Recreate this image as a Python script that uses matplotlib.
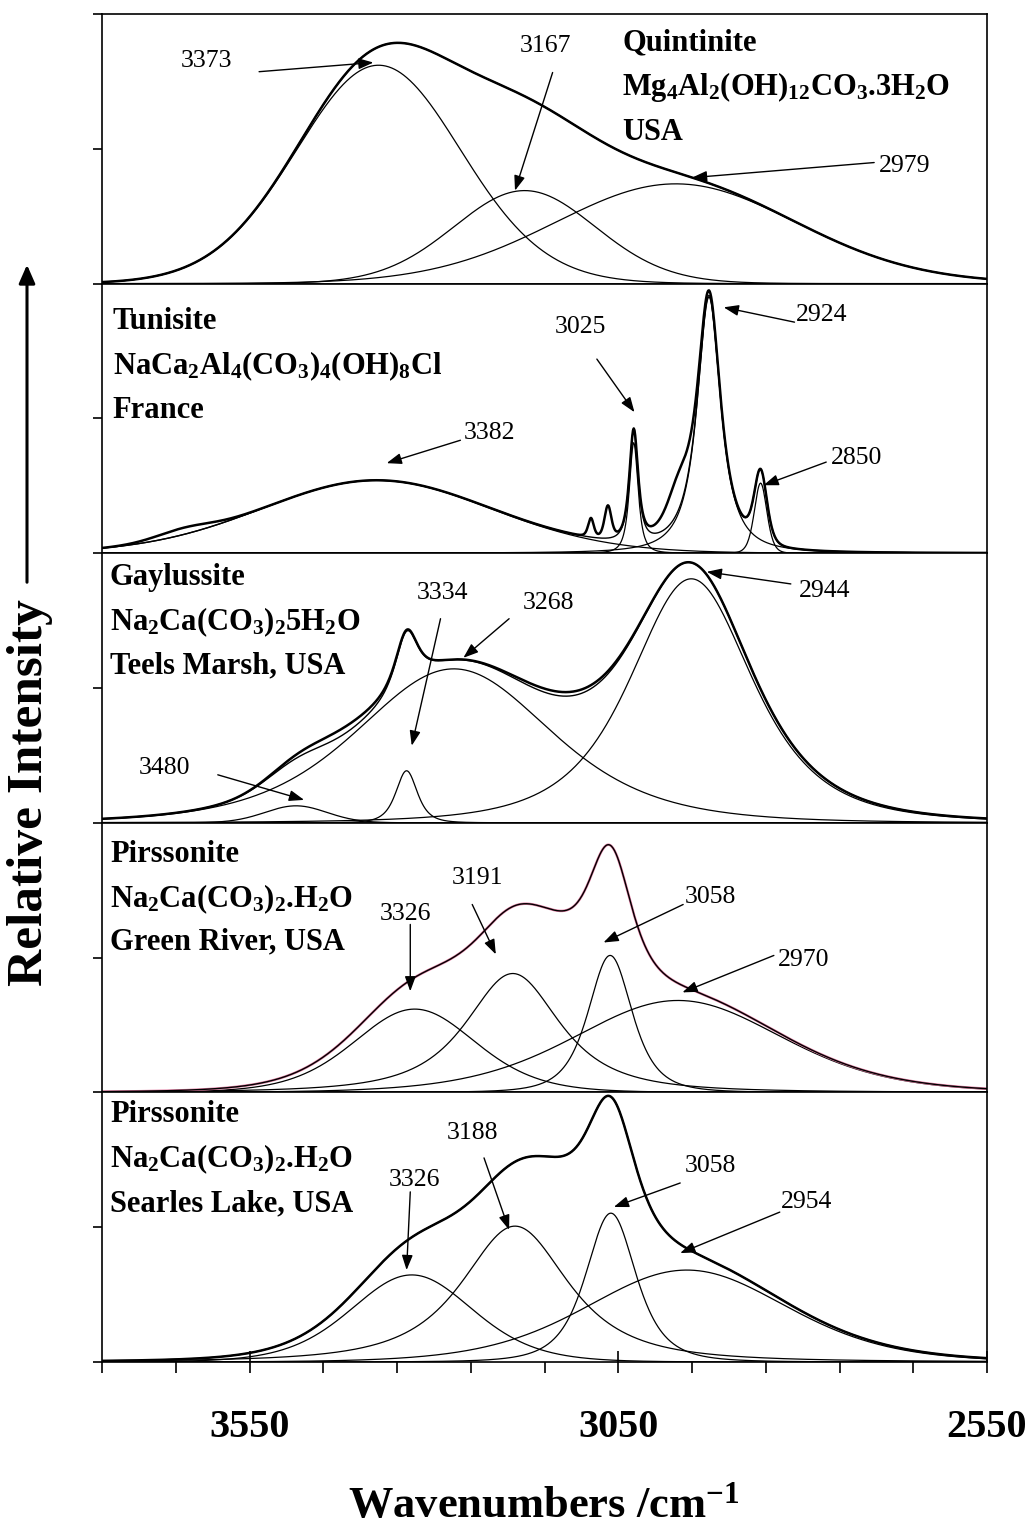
import numpy as np
import matplotlib
matplotlib.use("Agg")
import matplotlib.pyplot as plt
from matplotlib.patches import FancyArrowPatch
from matplotlib.ticker import MultipleLocator

plt.rcParams["font.family"] = ["Liberation Serif", "DejaVu Serif"]
plt.rcParams["mathtext.fontset"] = "custom"
plt.rcParams["mathtext.rm"] = "Liberation Serif"
plt.rcParams["mathtext.bf"] = "Liberation Serif:bold"
plt.rcParams["mathtext.it"] = "Liberation Serif:italic"

# ── data: fitted bands (centre /cm-1, relative height, FWHM /cm-1, Pearson VII shape m) ──
# m = 1 is a Lorentzian, large m tends to a Gaussian

QUIN_CENTRES = [3375, 3177, 2972]
QUIN_HEIGHTS = [0.81, 0.345, 0.37]
QUIN_FWHM = [265, 228, 390]
QUIN_SHAPE = [20, 20, 20]
QUIN_LABELS = ["3373", "3167", "2979"]

TUN_CENTRES = [3378, 3029, 2927, 2857]
TUN_HEIGHTS = [0.27, 0.41, 0.95, 0.26]
TUN_FWHM = [370, 14, 38, 20]
TUN_SHAPE = [20, 1.5, 1.2, 4]
TUN_LABELS = ["3382", "3025", "2924", "2850"]
# features of the measured spectrum left out of the fit
TUN_EXTRA_CENTRES = [3640, 3087, 3064, 2968]
TUN_EXTRA_HEIGHTS = [0.025, 0.07, 0.12, 0.14]
TUN_EXTRA_FWHM = [90, 9, 11, 40]
TUN_EXTRA_SHAPE = [20, 3, 3, 2]

GAY_CENTRES = [3487, 3337, 3273, 2951]
GAY_HEIGHTS = [0.063, 0.193, 0.571, 0.905]
GAY_FWHM = [100, 34, 310, 195]
GAY_SHAPE = [20, 2, 3, 2]
GAY_LABELS = ["3480", "3334", "3268", "2944"]
GAY_EXTRA_CENTRES = [3430, 3120]
GAY_EXTRA_HEIGHTS = [0.025, 0.015]
GAY_EXTRA_FWHM = [120, 150]
GAY_EXTRA_SHAPE = [20, 20]

GR_CENTRES = [3326, 3193, 3061, 2969]
GR_HEIGHTS = [0.309, 0.441, 0.508, 0.341]
GR_FWHM = [195, 150, 70, 332]
GR_SHAPE = [5, 1.5, 2, 5]
GR_LABELS = ["3326", "3191", "3058", "2970"]

SL_CENTRES = [3330, 3190, 3060, 2957]
SL_HEIGHTS = [0.323, 0.504, 0.552, 0.341]
SL_FWHM = [195, 170, 80, 320]
SL_SHAPE = [5, 1.5, 2, 5]
SL_LABELS = ["3326", "3188", "3058", "2954"]

# envelope intensity not shown as a separate band (pirssonite plateau)
PIRS_HIDDEN_CENTRES = [3130]
PIRS_HIDDEN_HEIGHTS = [0.13]
PIRS_HIDDEN_FWHM = [100]
PIRS_HIDDEN_SHAPE = [20]

MINERALS = [
    ["Quintinite", r"Mg$_\mathbf{4}$Al$_\mathbf{2}$(OH)$_\mathbf{12}$CO$_\mathbf{3}$.3H$_\mathbf{2}$O", "USA"],
    ["Tunisite", r"NaCa$_\mathbf{2}$Al$_\mathbf{4}$(CO$_\mathbf{3}$)$_\mathbf{4}$(OH)$_\mathbf{8}$Cl", "France"],
    ["Gaylussite", r"Na$_\mathbf{2}$Ca(CO$_\mathbf{3}$)$_\mathbf{2}$5H$_\mathbf{2}$O", "Teels Marsh, USA"],
    ["Pirssonite", r"Na$_\mathbf{2}$Ca(CO$_\mathbf{3}$)$_\mathbf{2}$.H$_\mathbf{2}$O", "Green River, USA"],
    ["Pirssonite", r"Na$_\mathbf{2}$Ca(CO$_\mathbf{3}$)$_\mathbf{2}$.H$_\mathbf{2}$O", "Searles Lake, USA"],
]

# ── layout: label text, arrow tail, arrow head as (wavenumber, relative height) ──

QUIN_ANN = [((3608, 0.827), (3537, 0.786), (3382, 0.820)),
            ((3149, 0.883), (3139, 0.783), (3190, 0.345)),
            ((2662, 0.438), (2703, 0.449), (2950, 0.393))]
TUN_ANN = [((3224, 0.445), (3264, 0.419), (3364, 0.334)),
           ((3101, 0.838), (3079, 0.720), (3028, 0.523)),
           ((2774, 0.883), (2811, 0.857), (2907, 0.912)),
           ((2727, 0.352), (2768, 0.338), (2853, 0.252))]
GAY_ANN = [((3665, 0.204), (3593, 0.178), (3476, 0.085)),
           ((3288, 0.853), (3291, 0.757), (3330, 0.286)),
           ((3145, 0.816), (3198, 0.757), (3260, 0.612)),
           ((2770, 0.861), (2816, 0.886), (2930, 0.931))]
GR_ANN = [((3338, 0.660), (3332, 0.623), (3332, 0.375)),
          ((3241, 0.797), (3248, 0.697), (3216, 0.512)),
          ((2925, 0.723), (2962, 0.697), (3070, 0.556)),
          ((2799, 0.490), (2839, 0.508), (2963, 0.371))]
SL_ANN = [((3326, 0.675), (3332, 0.631), (3337, 0.341)),
          ((3248, 0.849), (3232, 0.757), (3198, 0.490)),
          ((2925, 0.727), (2966, 0.664), (3056, 0.575)),
          ((2795, 0.593), (2831, 0.556), (2966, 0.404))]

WN = np.arange(3750.0, 2549.0, -1.0)


def band(x, c, h, w, m):
    d = (x - c) / w
    return h / (1.0 + 4 * (2 ** (1.0 / m) - 1) * d ** 2) ** m


def bands(centres, heights, widths, shapes):
    return [band(WN, c, h, w, m) for c, h, w, m in zip(centres, heights, widths, shapes)]


pirs_hidden = bands(PIRS_HIDDEN_CENTRES, PIRS_HIDDEN_HEIGHTS, PIRS_HIDDEN_FWHM, PIRS_HIDDEN_SHAPE)

panels = [
    dict(comps=bands(QUIN_CENTRES, QUIN_HEIGHTS, QUIN_FWHM, QUIN_SHAPE), extra=[], hidden=[],
         labels=QUIN_LABELS, ann=QUIN_ANN, obs_color="black", name_x=0.588),
    dict(comps=bands(TUN_CENTRES, TUN_HEIGHTS, TUN_FWHM, TUN_SHAPE),
         extra=bands(TUN_EXTRA_CENTRES, TUN_EXTRA_HEIGHTS, TUN_EXTRA_FWHM, TUN_EXTRA_SHAPE),
         hidden=[], labels=TUN_LABELS, ann=TUN_ANN, obs_color="black", name_x=0.012),
    dict(comps=bands(GAY_CENTRES, GAY_HEIGHTS, GAY_FWHM, GAY_SHAPE),
         extra=bands(GAY_EXTRA_CENTRES, GAY_EXTRA_HEIGHTS, GAY_EXTRA_FWHM, GAY_EXTRA_SHAPE),
         hidden=[], labels=GAY_LABELS, ann=GAY_ANN, obs_color="black", name_x=0.009),
    dict(comps=bands(GR_CENTRES, GR_HEIGHTS, GR_FWHM, GR_SHAPE), extra=[], hidden=pirs_hidden,
         labels=GR_LABELS, ann=GR_ANN, obs_color="#e07aa0", name_x=0.009),
    dict(comps=bands(SL_CENTRES, SL_HEIGHTS, SL_FWHM, SL_SHAPE), extra=[], hidden=pirs_hidden,
         labels=SL_LABELS, ann=SL_ANN, obs_color="black", name_x=0.009),
]
NAME_Y = [[0.866, 0.700, 0.533], [0.830, 0.663, 0.503], [0.881, 0.714, 0.555],
          [0.855, 0.688, 0.529], [0.889, 0.722, 0.558]]

# ── render ──

FW, FH = 1029, 1526
fig = plt.figure(figsize=(FW / 100, FH / 100), dpi=100)
left_px, right_px, top_px, bottom_px = 102, 987, 14, 1362
ph = (bottom_px - top_px) / 5

axes = []
for i, p in enumerate(panels):
    y0 = top_px + i * ph
    ax = fig.add_axes([left_px / FW, 1 - (y0 + ph) / FH, (right_px - left_px) / FW, ph / FH])
    axes.append(ax)

    fit = np.sum(p["comps"] + p["hidden"], axis=0)
    obs = fit + (np.sum(p["extra"], axis=0) if p["extra"] else 0)
    for comp in p["comps"]:
        ax.plot(WN, comp, color="black", lw=0.9)
    ax.plot(WN, obs, color=p["obs_color"], lw=1.8)
    ax.plot(WN, fit, color="black", lw=1.0)

    for lab, (txt, tail, head) in zip(p["labels"], p["ann"]):
        ax.text(txt[0], txt[1], lab, ha="center", va="center", fontsize=18.5)
        ax.annotate("", xy=head, xytext=tail,
                    arrowprops=dict(arrowstyle="-|>,head_length=0.6,head_width=0.22",
                                    color="black", lw=1.0, shrinkA=0, shrinkB=0,
                                    mutation_scale=15))

    for line, yy in zip(MINERALS[i], NAME_Y[i]):
        ax.text(p["name_x"], yy, line, transform=ax.transAxes, fontsize=22,
                fontweight="bold", ha="left", va="baseline")

    ax.set_xlim(3750, 2550)
    ax.set_ylim(0, 1)
    ax.set_yticks([0, 0.5, 1] if i == 0 else [0, 0.5])
    ax.tick_params(axis="y", direction="out", length=6.5, width=1.2, labelleft=False)
    for s in ax.spines.values():
        s.set_linewidth(1.2)
    if i < 4:
        ax.tick_params(axis="x", which="both", bottom=False, labelbottom=False)

bax = axes[-1]
bax.set_xticks([3550, 3050, 2550])
bax.set_xticklabels(["3550", "3050", "2550"], fontsize=29, fontweight="bold")
bax.xaxis.set_minor_locator(MultipleLocator(100, offset=50))
bax.tick_params(axis="x", which="major", direction="inout", length=16, width=1.2, pad=26)
bax.tick_params(axis="x", which="minor", direction="out", length=8, width=1.2)

fig.text(544 / FW, 1 - 1517 / FH, r"Wavenumbers /cm$^\mathbf{-1}$", ha="center",
         va="baseline", fontsize=32, fontweight="bold")
fig.text(30 / FW, 1 - 793 / FH, "Relative Intensity", rotation=90, ha="center",
         va="center", fontsize=37, fontweight="bold")
fig.add_artist(FancyArrowPatch((27 / FW, 1 - 585 / FH), (27 / FW, 1 - 262 / FH),
                               transform=fig.transFigure,
                               arrowstyle="-|>,head_length=0.8,head_width=0.35",
                               mutation_scale=14, lw=2.2, color="black"))

fig.savefig("out.png", dpi=100)
